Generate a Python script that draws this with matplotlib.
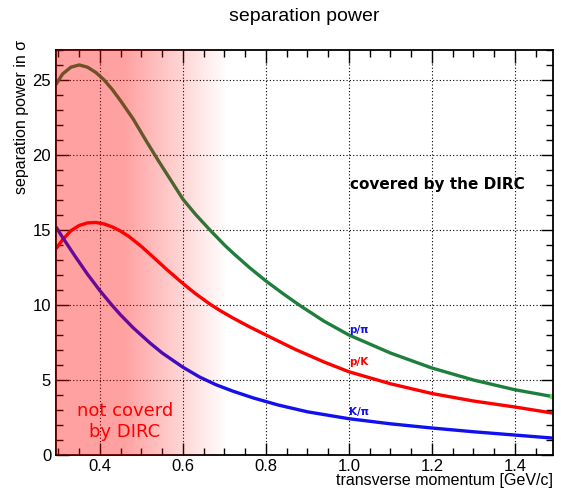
import matplotlib
matplotlib.use("Agg")
import matplotlib.pyplot as plt
from matplotlib.ticker import MultipleLocator
import numpy as np

# momentum values (GeV/c) and separation power (sigma)
p_green = [0.294, 0.31, 0.33, 0.35, 0.37, 0.39, 0.41, 0.43, 0.45, 0.48, 0.51, 0.54,
           0.57, 0.60, 0.63, 0.665, 0.70, 0.72, 0.76, 0.80, 0.84, 0.88, 0.94, 1.00,
           1.10, 1.20, 1.30, 1.40, 1.49]
s_ppi = [24.7, 25.4, 25.85, 26.0, 25.85, 25.5, 25.0, 24.35, 23.6, 22.4, 21.0, 19.65,
         18.35, 17.05, 16.05, 15.0, 14.0, 13.48, 12.5, 11.6, 10.78, 10.0, 8.92, 8.0,
         6.8, 5.8, 5.0, 4.35, 3.9]

p_red = [0.294, 0.31, 0.33, 0.35, 0.37, 0.39, 0.41, 0.43, 0.45, 0.47, 0.50, 0.53,
         0.56, 0.60, 0.63, 0.665, 0.69, 0.72, 0.76, 0.80, 0.87, 0.94, 1.00, 1.10,
         1.20, 1.30, 1.40, 1.49]
s_pK = [13.75, 14.35, 14.95, 15.3, 15.47, 15.5, 15.4, 15.2, 14.92, 14.56, 13.9, 13.15,
        12.39, 11.43, 10.76, 10.06, 9.62, 9.14, 8.55, 8.0, 7.05, 6.2, 5.55, 4.75,
        4.1, 3.6, 3.2, 2.8]

p_blue = [0.294, 0.31, 0.34, 0.37, 0.40, 0.43, 0.45, 0.48, 0.52, 0.55, 0.60, 0.64,
          0.68, 0.72, 0.77, 0.83, 0.90, 1.00, 1.10, 1.20, 1.30, 1.40, 1.49]
s_Kpi = [15.2, 14.5, 13.25, 12.05, 10.95, 9.95, 9.33, 8.48, 7.48, 6.8, 5.85, 5.2,
         4.68, 4.26, 3.8, 3.33, 2.88, 2.42, 2.08, 1.8, 1.55, 1.33, 1.13]

plt.rcParams['font.family'] = ['Liberation Sans', 'DejaVu Sans']

fig = plt.figure(figsize=(5.61, 4.91), dpi=100)
ax = fig.add_axes([0.0998, 0.0733, 0.886, 0.825])

ax.plot(p_green, s_ppi, color='#1e7f3c', lw=2.4, zorder=2, solid_capstyle='butt')
ax.plot(p_red, s_pK, color='#ff0000', lw=2.4, zorder=2, solid_capstyle='butt')
ax.plot(p_blue, s_Kpi, color='#1010f0', lw=2.4, zorder=2, solid_capstyle='butt')
ax.plot(p_green[-1:], s_ppi[-1:], 's', color='#66dd66', ms=3, zorder=2)

ax.set_xlim(0.294, 1.492)
ax.set_ylim(0, 27)

# red shading over the low momentum region, fading out
xs = np.linspace(0.294, 0.72, 300)
alpha = np.clip((0.71 - xs) / (0.71 - 0.46), 0, 1) * 0.37
rgba = np.zeros((1, len(xs), 4))
rgba[..., 0] = 1.0
rgba[..., 3] = alpha
ax.imshow(rgba, extent=[0.294, 0.72, 0, 27], aspect='auto', zorder=3,
          interpolation='bilinear')

ax.xaxis.set_major_locator(MultipleLocator(0.2))
ax.xaxis.set_minor_locator(MultipleLocator(0.05))
ax.yaxis.set_major_locator(MultipleLocator(5))
ax.yaxis.set_minor_locator(MultipleLocator(1))
ax.tick_params(which='both', direction='in', top=True, right=True, labelsize=12)
ax.tick_params(axis='x', which='major', pad=3)
ax.tick_params(which='major', length=9, width=1)
ax.tick_params(which='minor', length=5, width=1)
ax.grid(True, which='major', ls=(0, (1, 2)), color='black', lw=0.8)
for s in ax.spines.values():
    s.set_linewidth(1.3)

ax.set_title('separation power', fontsize=14, pad=21)
ax.set_xlabel('transverse momentum [GeV/c]', loc='right', fontsize=11.5)
ax.xaxis.set_label_coords(1.0, -0.045)
ax.xaxis.label.set_va('top')
ax.set_ylabel('separation power in σ', loc='top', fontsize=11.5)
ax.yaxis.set_label_coords(-0.054, 1.025)

ax.text(1.0, 8.3, 'p/π', color='#1010f0', fontsize=7.5, fontweight='bold',
        family='DejaVu Sans', va='center', zorder=4)
ax.text(1.0, 6.2, 'p/K', color='#ff0000', fontsize=7.5, fontweight='bold',
        family='DejaVu Sans', va='center', zorder=4)
ax.text(1.0, 2.9, 'K/π', color='#1010f0', fontsize=7.5, fontweight='bold',
        family='DejaVu Sans', va='center', zorder=4)

ax.text(1.003, 18.0, 'covered by the DIRC', color='black', fontsize=11,
        fontweight='bold', family='DejaVu Sans', va='center', zorder=4)
ax.text(0.46, 2.25, 'not coverd\nby DIRC', color='#ff0000', fontsize=13,
        family='DejaVu Sans', ha='center', va='center', linespacing=1.25, zorder=4)

fig.savefig('out.png', dpi=100)
